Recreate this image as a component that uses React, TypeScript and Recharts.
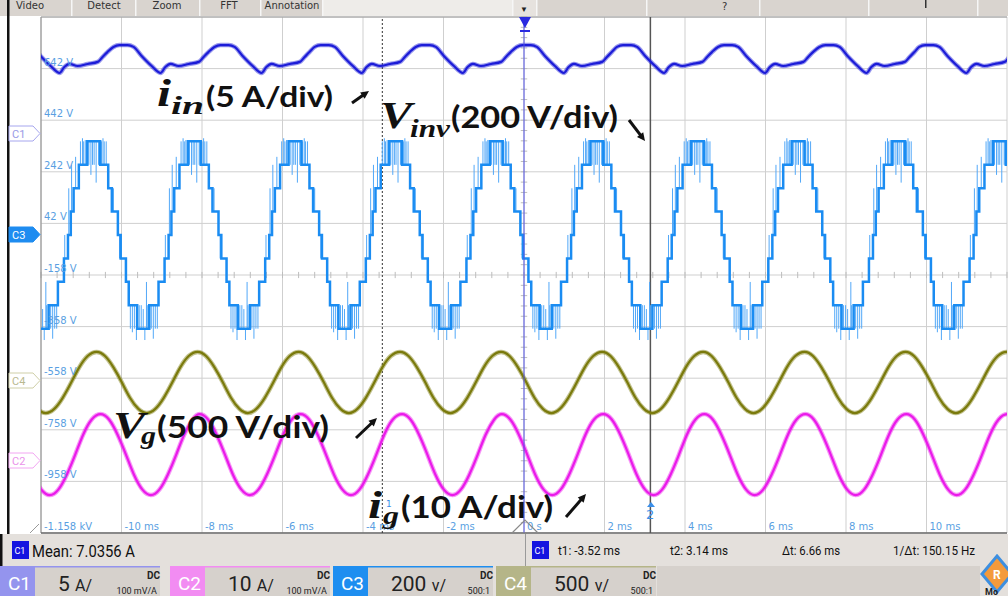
import React from 'react'
import { LineChart, Line, XAxis, YAxis, CartesianGrid, ReferenceLine } from 'recharts'

// graticule
const TIME_TICKS = [-12, -10, -8, -6, -4, -2, 0, 2, 4, 6, 8, 10, 12]
const TIME_LABELS = ['', '-10 ms', '-8 ms', '-6 ms', '-4 ms', '-2 ms', '0 s', '2 ms', '4 ms', '6 ms', '8 ms', '10 ms', '']
const VOLT_TICKS = [-1158, -958, -758, -558, -358, -158, 42, 242, 442, 642, 842]
const VOLT_LABELS = ['-1.158 kV', '-958 V', '-758 V', '-558 V', '-358 V', '-158 V', '42 V', '242 V', '442 V', '642 V', '']

// cursors and trigger (ms)
const CURSOR_T1 = -3.52
const CURSOR_T2 = 3.14
const TRIGGER_T = 0

// C1 i_in : one period, offsets (ms) from each peak
const IIN_PEAKS = [-12.46, -9.95, -7.44, -4.95, -2.44, 0.07, 2.56, 5.07, 7.59, 10.07, 12.59]
const IIN_OFFS = [-0.25, -0.1, 0.1, 0.25, 0.45, 0.7, 0.92, 1.04, 1.17, 1.37, 1.62, 1.87, 1.99, 2.11]
const IIN_VALS = [726, 733, 733, 726, 691, 652, 625, 648, 660, 652, 660, 668, 687, 706]

// C3 V_inv : 9-level staircase, level values and step starts from each top plateau centre
const VINV_CENTRES = [-13.2, -10.7, -8.2, -5.7, -3.2, -0.7, 1.8, 4.3, 6.8, 9.3, 11.8]
const VINV_LEVELS = [-366, -275, -184, -94, -3, 88, 178, 269, 360]
const VINV_STEP_OFFS = [-0.15, 0.17, 0.37, 0.46, 0.61, 0.68, 0.81, 0.88, 1.09, 1.39, 1.62, 1.77, 1.87, 1.94, 2.01, 2.14]
const VINV_STEP_LVL = [4, 3, 2, 1, 0, -1, -2, -3, -4, -3, -2, -1, 0, 1, 2, 3]
// switching spikes on the plateaus: offset (ms), from, to
const SPIKE_OFFS = [-0.32, -0.27, -0.24, -0.2, -0.11, -0.06, -0.02, 0.02, 0.07, 0.13, 0.2, 0.24, 0.27, 0.32, 0.5, 0.65,
  0.92, 0.97, 1.02, 1.07, 1.14, 1.19, 1.24, 1.28, 1.32, 1.34, 1.44, 1.49, 1.54, 1.59, 1.79, 1.89, 1.96, 2.06]
const SPIKE_FROM = [269, 269, 269, 269, 360, 360, 360, 360, 360, 360, 269, 269, 269, 269, 88, -3,
  -275, -275, -275, -275, -366, -366, -366, -366, -366, -366, -275, -275, -275, -275, -94, -3, 88, 178]
const SPIKE_TO = [360, 372, 360, 365, 269, 230, 269, 269, 200, 269, 360, 372, 360, 360, 178, -94,
  -366, -380, -366, -410, -275, -275, -290, -410, -185, -275, -366, -405, -366, -366, -3, 178, 269, 300]

// C4 V_g and C2 i_g : one period from each peak
const VG_PEAKS = [-13.13, -10.62, -8.11, -5.6, -3.08, -0.57, 1.94, 4.45, 6.97, 9.48, 11.99]
const IG_PEAKS = [-13.03, -10.52, -8.06, -5.55, -3.03, -0.55, 1.97, 4.48, 6.99, 9.5, 12.01]
const SINE_OFFS = [0, 0.21, 0.42, 0.63, 0.83, 1.04, 1.25, 1.46, 1.67, 1.88, 2.08, 2.29]
const VG_VALS = [-456, -472, -516, -575, -634, -677, -693, -677, -634, -575, -516, -472]
const IG_VALS = [-697, -718, -776, -854, -932, -990, -1011, -990, -932, -854, -776, -718]

type Pt = { t: number; v: number | null }

function tile(starts: number[], offs: number[], vals: number[]): Pt[] {
  const out: Pt[] = []
  starts.forEach((s) => offs.forEach((o, i) => out.push({ t: +(s + o).toFixed(3), v: vals[i] })))
  return out
}

function spikes(starts: number[]): Pt[] {
  const out: Pt[] = []
  starts.forEach((s) =>
    SPIKE_OFFS.forEach((o, i) => {
      const t = +(s + o).toFixed(3)
      out.push({ t, v: SPIKE_FROM[i] }, { t, v: SPIKE_TO[i] }, { t: t + 0.001, v: null })
    })
  )
  return out
}

const iinData = tile(IIN_PEAKS, IIN_OFFS, IIN_VALS)
const vinvData = tile(VINV_CENTRES, VINV_STEP_OFFS, VINV_STEP_LVL.map((l) => VINV_LEVELS[l + 4]))
const spikeData = spikes(VINV_CENTRES)
const vgData = tile(VG_PEAKS, SINE_OFFS, VG_VALS)
const igData = tile(IG_PEAKS, SINE_OFFS, IG_VALS)

const minorT: number[] = []
for (let t = -12; t <= 12.001; t += 0.4) minorT.push(+t.toFixed(2))
const minorV: number[] = []
for (let v = -1158; v <= 842; v += 40) minorV.push(v)

const lblStyle = { fill: '#5a9fe2', fontSize: 10, fontFamily: 'DejaVu Sans' }

function Scope() {
  return (
    <LineChart width={1008} height={596} margin={{ top: 17, right: 1, bottom: 63, left: 41 }}>
      <XAxis type="number" dataKey="t" domain={[-12, 12]} ticks={TIME_TICKS} allowDataOverflow hide />
      <YAxis type="number" domain={[-1158, 842]} ticks={VOLT_TICKS} allowDataOverflow hide />
      <CartesianGrid stroke="#cfcfcf" horizontalValues={VOLT_TICKS} verticalValues={TIME_TICKS} />
      {minorT.map((t) => (
        <ReferenceLine key={'mt' + t} segment={[{ x: t, y: -170 }, { x: t, y: -146 }]} stroke="#bdbdbd" ifOverflow="visible" />
      ))}
      {minorV.map((v) => (
        <ReferenceLine key={'mv' + v} segment={[{ x: -0.08, y: v }, { x: 0.08, y: v }]} stroke="#bdbdbd" ifOverflow="visible" />
      ))}
      {VOLT_TICKS.map((v, i) => (
        <ReferenceLine key={'yl' + v} y={v} stroke="none" ifOverflow="visible"
          label={{ value: VOLT_LABELS[i], position: 'insideBottomLeft', offset: 3, ...lblStyle }} />
      ))}
      {TIME_TICKS.map((t, i) => (
        <ReferenceLine key={'xl' + t} x={t} stroke="none" ifOverflow="visible"
          label={{ value: TIME_LABELS[i], position: 'insideBottomLeft', offset: 3, ...lblStyle }} />
      ))}
      <ReferenceLine x={-12} stroke="#8a8a8a" ifOverflow="visible" />
      <ReferenceLine y={-1158} stroke="#6a6a6a" strokeWidth={1.5} ifOverflow="visible" />
      <ReferenceLine y={842} stroke="#9a9a9a" ifOverflow="visible" />
      <ReferenceLine x={CURSOR_T1} stroke="#333" strokeDasharray="2 2" ifOverflow="visible" />
      <ReferenceLine x={CURSOR_T2} stroke="#555" strokeWidth={1.5} ifOverflow="visible" />

      <Line data={spikeData} dataKey="v" type="linear" stroke="#52a8f8" strokeWidth={1} dot={false} isAnimationActive={false} />
      <Line data={vinvData} dataKey="v" type="stepAfter" stroke="#1a8cf2" strokeWidth={2.5} dot={false} isAnimationActive={false} />
      <Line data={iinData} dataKey="v" type="monotone" stroke="#1c1cd8" strokeOpacity={0.45} strokeWidth={4.5} dot={false} isAnimationActive={false} />
      <Line data={iinData} dataKey="v" type="monotone" stroke="#1c1cd8" strokeWidth={2.2} dot={false} isAnimationActive={false} />
      <Line data={vgData} dataKey="v" type="natural" stroke="#7a7a0c" strokeOpacity={0.45} strokeWidth={4.5} dot={false} isAnimationActive={false} />
      <Line data={vgData} dataKey="v" type="natural" stroke="#7a7a0c" strokeWidth={2.2} dot={false} isAnimationActive={false} />
      <Line data={igData} dataKey="v" type="natural" stroke="#ea1aea" strokeOpacity={0.45} strokeWidth={4.5} dot={false} isAnimationActive={false} />
      <Line data={igData} dataKey="v" type="natural" stroke="#ea1aea" strokeWidth={2.2} dot={false} isAnimationActive={false} />

      <ReferenceLine x={TRIGGER_T} stroke="#5252e6" ifOverflow="visible" />
    </LineChart>
  )
}

const SANS = 'Liberation Sans Narrow, Roboto, DejaVu Sans'
const MATH = 'Liberation Serif, DejaVu Serif'

function Arrow({ x1, y1, x2, y2 }: { x1: number; y1: number; x2: number; y2: number }) {
  const a = Math.atan2(y2 - y1, x2 - x1)
  const h = 9
  const p1 = [x2 - h * Math.cos(a - 0.45), y2 - h * Math.sin(a - 0.45)]
  const p2 = [x2 - h * Math.cos(a + 0.45), y2 - h * Math.sin(a + 0.45)]
  return (
    <g>
      <line x1={x1} y1={y1} x2={x2 - 4 * Math.cos(a)} y2={y2 - 4 * Math.sin(a)} stroke="#111" strokeWidth={3} />
      <polygon points={`${x2},${y2} ${p1[0]},${p1[1]} ${p2[0]},${p2[1]}`} fill="#111" />
    </g>
  )
}

function Tag({ y, label, stroke, fill, text }: { y: number; label: string; stroke: string; fill: string; text: string }) {
  return (
    <g>
      <polygon points={`9,${y} 33,${y} 40,${y + 7.5} 33,${y + 15} 9,${y + 15}`} fill={fill} stroke={stroke} strokeWidth={1} />
      <text x={12} y={y + 12} fontSize={11} fill={text} fontFamily={SANS}>{label}</text>
    </g>
  )
}

function Chan({ x, label, col, line, scale, unit, probe }: { x: number; label: string; col: string; line: string; scale: string; unit: string; probe: string }) {
  return (
    <g>
      <rect x={x} y={566} width={35} height={30} fill={col} />
      <text x={x + 8} y={590} fontSize={19} fill="#fff" fontFamily={SANS}>{label}</text>
      <rect x={x + 35} y={566} width={125} height={30} fill="#d6d1cc" />
      <rect x={x + 35} y={566} width={125} height={1.5} fill={line} />
      <text x={x + 58} y={591} fontSize={21} fill="#222" fontFamily={SANS}>{scale}<tspan fontSize={16}>{unit}</tspan></text>
      <text x={x + 147} y={579} fontSize={10} fontWeight="bold" fill="#222" fontFamily={SANS}>DC</text>
      <text x={x + 157} y={594} fontSize={9} fill="#222" fontFamily={SANS} textAnchor="end">{probe}</text>
    </g>
  )
}

function Overlay() {
  const tabs = [['Video', 30], ['Detect', 104], ['Zoom', 167], ['FFT', 229], ['Annotation', 292]] as const
  return (
    <svg width={1008} height={596} style={{ position: 'absolute', left: 0, top: 0, pointerEvents: 'none' }}>
      {/* top toolbar */}
      <rect x={0} y={0} width={1008} height={16} fill="#d9d4cf" />
      <rect x={322} y={0} width={190} height={16} fill="#eeece9" />
      <rect x={513} y={0} width={23} height={16} fill="#e6e2de" />
      <text x={524} y={12} fontSize={8} textAnchor="middle" fill="#222">▼</text>
      {[71, 135, 199, 260, 322, 512, 536, 646, 759, 868, 977].map((x) => (
        <rect key={x} x={x} y={0} width={1.5} height={16} fill="#f6f6f6" />
      ))}
      {tabs.map(([t, x]) => (
        <text key={t} x={x} y={9} fontSize={10} textAnchor="middle" fill="#333" fontFamily="DejaVu Sans">{t}</text>
      ))}
      <text x={722} y={10} fontSize={10} fill="#333" fontFamily="DejaVu Sans">?</text>
      <rect x={925} y={0} width={1.5} height={8} fill="#333" />

      {/* left frame */}
      <rect x={7} y={0} width={2.5} height={534} fill="#111" />
      <Tag y={126} label="C1" stroke="#a6a6ee" fill="#fff" text="#9a9ae6" />
      <Tag y={227} label="C3" stroke="#1e8cf0" fill="#1e8cf0" text="#fff" />
      <Tag y={373} label="C4" stroke="#cfcfa8" fill="#fff" text="#b9b990" />
      <Tag y={453} label="C2" stroke="#f2a6f2" fill="#fff" text="#ea92ea" />
      <line x1={30} y1={533} x2={39} y2={524} stroke="#999" />

      {/* trigger and cursor markers */}
      <polygon points="519,17 531,17 525,28" fill="#2a2ae0" />
      <rect x={520} y={30} width={10} height={2} fill="#2a2ae0" />
      <polygon points="512,533 525,520 538,533" fill="none" stroke="#8a8a8a" strokeWidth={1.2} />
      <polygon points="647,507 655,507 651,502" fill="#3a8ee8" />
      <text x={646} y={519} fontSize={13} fill="#3a8ee8" fontFamily="DejaVu Sans">2</text>
      <text x={386} y={507} fontSize={9} fill="#3a8ee8" fontFamily="DejaVu Sans">1</text>

      {/* annotations */}
      <g fill="#111">
        <text x={157} y={106} fontSize={38} fontStyle="italic" fontWeight="bold" fontFamily={MATH} textLength={14} lengthAdjust="spacingAndGlyphs">i</text>
        <text x={171} y={114} fontSize={26} fontStyle="italic" fontWeight="bold" fontFamily={MATH} textLength={33} lengthAdjust="spacingAndGlyphs">in</text>
        <text x={206} y={107} fontSize={29} fontWeight="bold" fontFamily="Lato" textLength={127} lengthAdjust="spacingAndGlyphs">(5 A/div)</text>

        <text x={380} y={128} fontSize={38} fontStyle="italic" fontWeight="bold" fontFamily={MATH} textLength={32} lengthAdjust="spacingAndGlyphs">V</text>
        <text x={410} y={137} fontSize={26} fontStyle="italic" fontWeight="bold" fontFamily={MATH} textLength={40} lengthAdjust="spacingAndGlyphs">inv</text>
        <text x={451} y={128} fontSize={30} fontWeight="bold" fontFamily="Lato" textLength={167} lengthAdjust="spacingAndGlyphs">(200 V/div)</text>

        <text x={113} y={438} fontSize={38} fontStyle="italic" fontWeight="bold" fontFamily={MATH} textLength={32} lengthAdjust="spacingAndGlyphs">V</text>
        <text x={141} y={444} fontSize={26} fontStyle="italic" fontWeight="bold" fontFamily={MATH} textLength={15} lengthAdjust="spacingAndGlyphs">g</text>
        <text x={157} y={438} fontSize={30} fontWeight="bold" fontFamily="Lato" textLength={172} lengthAdjust="spacingAndGlyphs">(500 V/div)</text>

        <text x={368} y={518} fontSize={38} fontStyle="italic" fontWeight="bold" fontFamily={MATH} textLength={14} lengthAdjust="spacingAndGlyphs">i</text>
        <text x={383} y={524} fontSize={26} fontStyle="italic" fontWeight="bold" fontFamily={MATH} textLength={16} lengthAdjust="spacingAndGlyphs">g</text>
        <text x={401} y={518} fontSize={30} fontWeight="bold" fontFamily="Lato" textLength={152} lengthAdjust="spacingAndGlyphs">(10 A/div)</text>
      </g>
      <Arrow x1={352} y1={103} x2={369} y2={91} />
      <Arrow x1={629} y1={120} x2={645} y2={141} />
      <Arrow x1={356} y1={438} x2={377} y2={418} />
      <Arrow x1={566} y1={517} x2={586} y2={494} />

      {/* status bar */}
      <rect x={0} y={534} width={1008} height={32} fill="#e4e0dc" />
      <rect x={0} y={534} width={2.5} height={62} fill="#111" />
      <rect x={12} y={541} width={17} height={18} fill="#1414e0" />
      <text x={14.5} y={554} fontSize={9} fill="#fff" fontFamily={SANS}>C1</text>
      <text x={32} y={557} fontSize={17} fill="#111" fontFamily={SANS} textLength={103} lengthAdjust="spacingAndGlyphs">Mean: 7.0356 A</text>
      <rect x={525} y={534} width={1} height={32} fill="#9a9a9a" />
      <rect x={532} y={541} width={17} height={18} fill="#1414e0" />
      <text x={534.5} y={554} fontSize={9} fill="#fff" fontFamily={SANS}>C1</text>
      <g fontSize={13} fill="#111" fontFamily={SANS}>
        <text x={558} y={555} textLength={62} lengthAdjust="spacingAndGlyphs">t1: -3.52 ms</text>
        <text x={670} y={555} textLength={58} lengthAdjust="spacingAndGlyphs">t2: 3.14 ms</text>
        <text x={782} y={555} textLength={58} lengthAdjust="spacingAndGlyphs">Δt: 6.66 ms</text>
        <text x={893} y={555} textLength={82} lengthAdjust="spacingAndGlyphs">1/Δt: 150.15 Hz</text>
      </g>

      {/* channel boxes */}
      <rect x={0} y={566} width={1008} height={30} fill="#e4e0dc" />
      <Chan x={0} label="C1" col="#9494ee" line="#9494ee" scale="5 " unit="A/" probe="100 mV/A" />
      <Chan x={170} label="C2" col="#f28cf2" line="#f28cf2" scale="10 " unit="A/" probe="100 mV/A" />
      <Chan x={333} label="C3" col="#1e8ef0" line="#1e8ef0" scale="200 " unit="v/" probe="500:1" />
      <Chan x={496} label="C4" col="#b5b588" line="#b5b588" scale="500 " unit="v/" probe="500:1" />
      <rect x={657} y={566} width={323} height={30} fill="#d6d1cc" />
      <polygon points="997,556 1012,574 997,592 982,574" fill="#f39a3c" stroke="#3d8fe0" strokeWidth={3} />
      <text x={993} y={579} fontSize={12} fontWeight="bold" fill="#fff" fontFamily={SANS}>R</text>
      <text x={985} y={595} fontSize={9} fontWeight="bold" fill="#222" fontFamily={SANS}>Mo</text>
    </svg>
  )
}

export default function App() {
  return (
    <div style={{ position: 'absolute', left: 0, top: 0, width: 1008, height: 596, overflow: 'hidden', background: '#fff' }}>
      <Scope />
      <Overlay />
    </div>
  )
}
